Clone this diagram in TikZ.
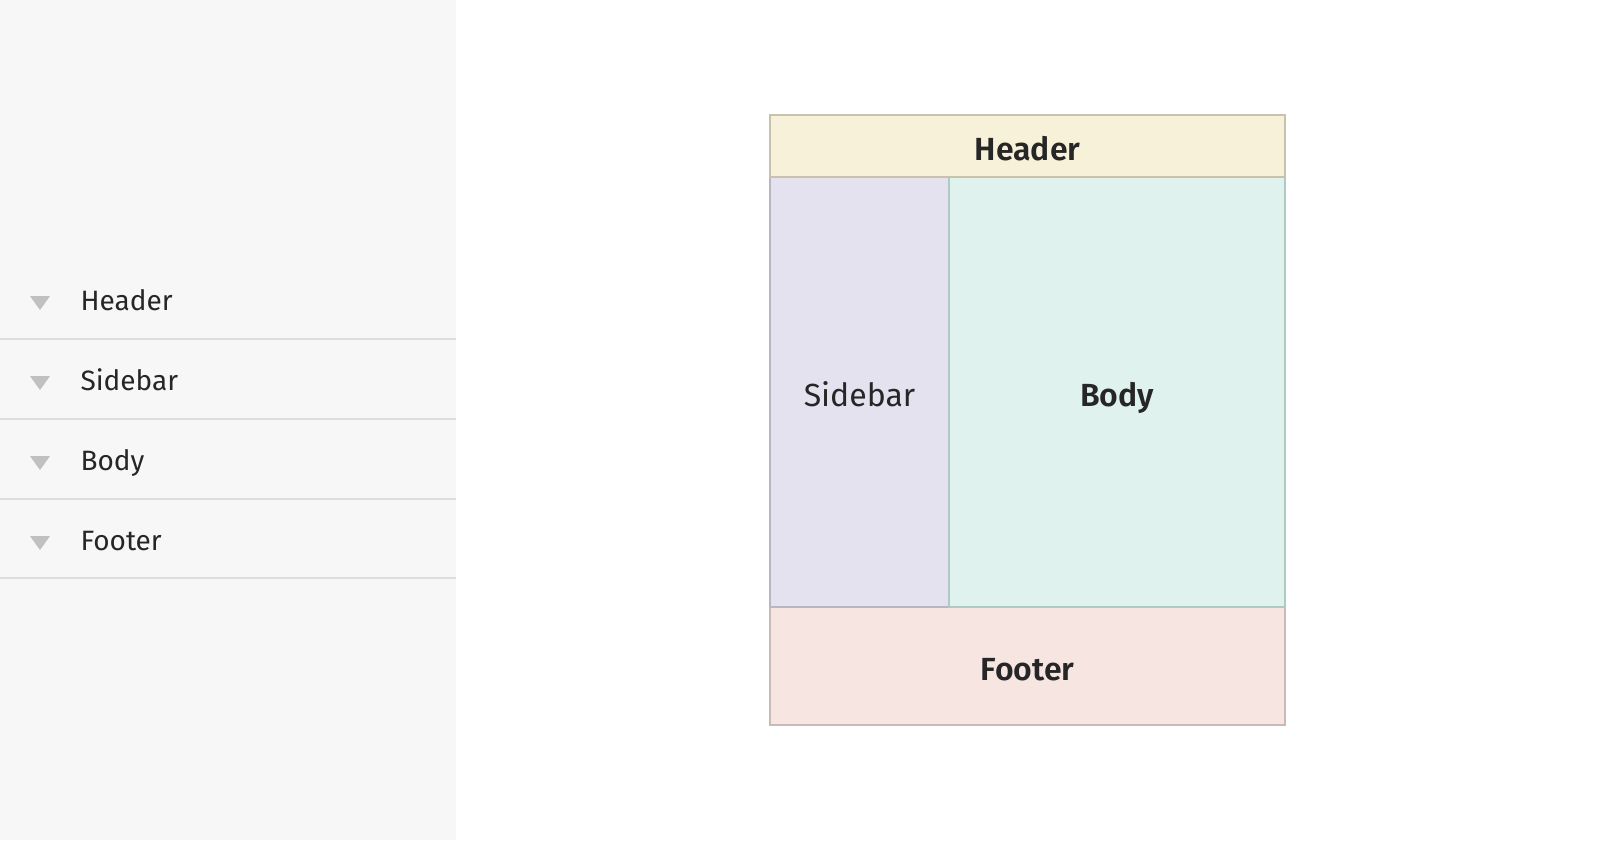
\documentclass[tikz,border=0pt]{standalone}
\usepackage{fontspec}
\setmainfont{Fira Sans}[BoldFont={Fira Sans SemiBold}]
\definecolor{panelbg}{HTML}{F7F7F7}
\definecolor{rowline}{HTML}{DDDDDD}
\definecolor{tricol}{HTML}{C0C0C0}
\definecolor{txt}{HTML}{262626}
\definecolor{hdrfill}{HTML}{F7F1DA}
\definecolor{hdrline}{HTML}{C9C2AA}
\definecolor{sidefill}{HTML}{E4E2EF}
\definecolor{sideline}{HTML}{B9B6C2}
\definecolor{bodyfill}{HTML}{DFF2ED}
\definecolor{bodyline}{HTML}{AFC9C3}
\definecolor{footfill}{HTML}{F7E5E2}
\definecolor{footline}{HTML}{C9BAB7}
\begin{document}
\begin{tikzpicture}[x=0.75pt,y=-0.75pt,
  rowlabel/.style={anchor=west,inner sep=0pt,outer sep=0pt,text=txt,
    font=\fontsize{21}{25}\selectfont,text height=15.5pt,text depth=0pt},
  box/.style={rectangle,inner sep=0pt,outer sep=0pt,line width=1.1pt,text=txt,
    font=\fontsize{24}{28}\selectfont,text height=21pt,text depth=0pt},
  boldbox/.style={box,font=\fontsize{24}{28}\selectfont\bfseries},
  sep/.style={draw=rowline,line width=1.4pt},
  tri/.style={fill=tricol}]
\useasboundingbox (0,0) rectangle (1600,840);
\fill[panelbg] (0,0) rectangle (456,840);
% rows
\node[rowlabel] (lhead) at (80.5,300) {Header};
\node[rowlabel] (lside) at (80.5,380) {Sidebar};
\node[rowlabel] (lbody) at (80.5,460) {Body};
\node[rowlabel] (lfoot) at (80.5,540) {Footer};
\foreach \y in {0,80,160,240}{
  \fill[tri] (30,296+\y) -- (50,296+\y) -- (40,310+\y) -- cycle;
}
\foreach \y in {339,419,499,578}{
  \draw[sep] (0,\y) -- (456,\y);
}
% layout boxes
\node[boldbox,fill=footfill,draw=footline,minimum width=386.25pt,minimum height=88.5pt] (foot) at (1027.5,666) {Footer};
\node[box,fill=sidefill,draw=sideline,minimum width=134.25pt,minimum height=322.5pt] (side) at (859.5,392) {Sidebar};
\node[boldbox,fill=bodyfill,draw=bodyline,minimum width=252pt,minimum height=322.5pt] (body) at (1117,392) {Body};
\node[boldbox,fill=hdrfill,draw=hdrline,minimum width=386.25pt,minimum height=46.5pt] (hdr) at (1027.5,146) {Header};
\end{tikzpicture}
\end{document}
